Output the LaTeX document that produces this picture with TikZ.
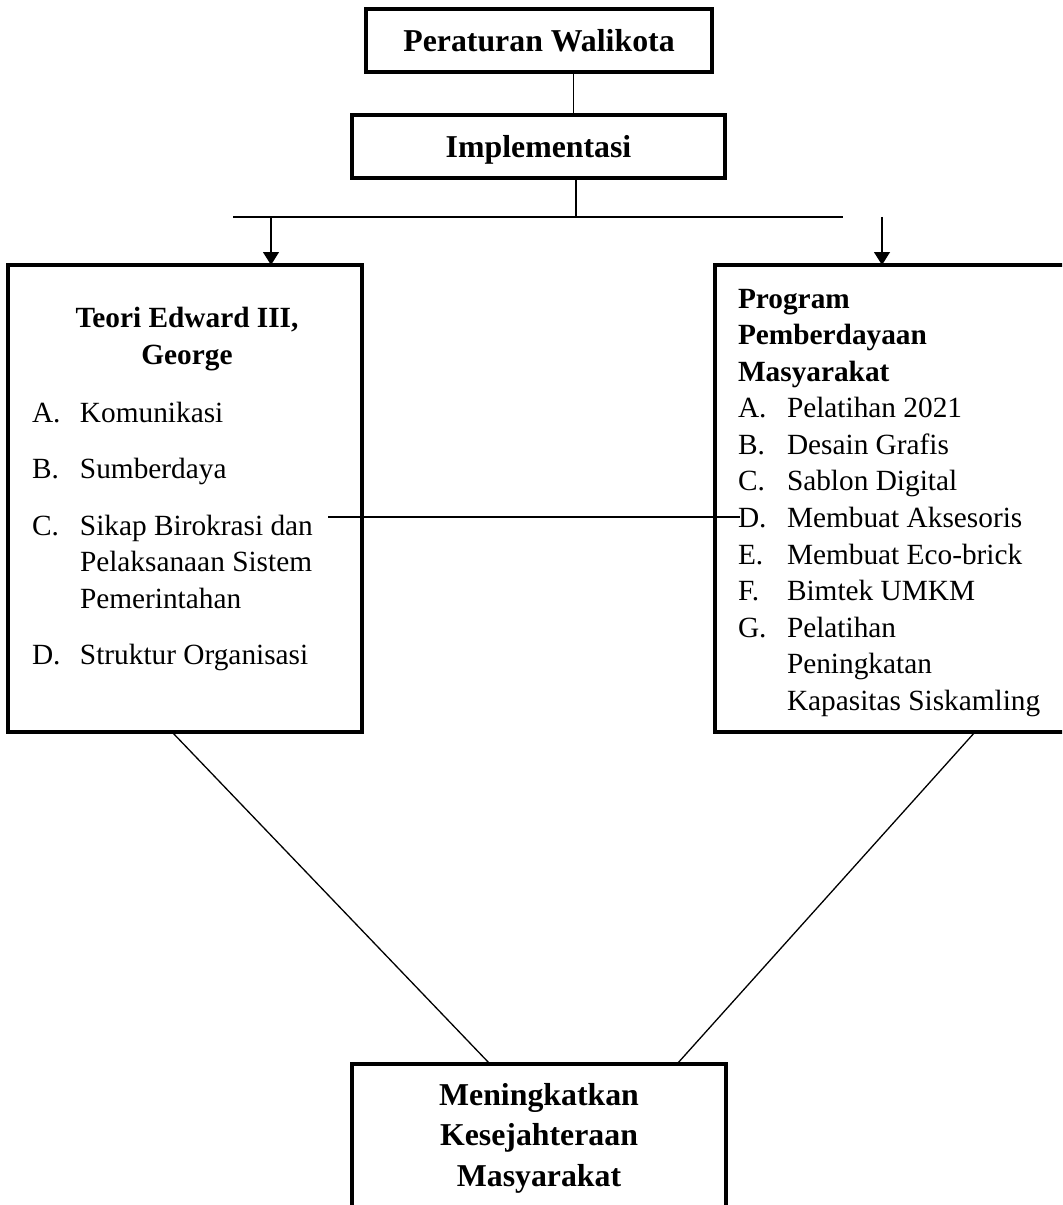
\documentclass[tikz,border=0pt]{standalone}
\usepackage{fontspec}
\setmainfont{Liberation Serif}
\usetikzlibrary{positioning,calc,arrows.meta}
\newdimen\px
\px=0.44pt

\begin{document}
\begin{tikzpicture}[
    x=0.44pt, y=-0.44pt,
    box/.style={rectangle, draw=black, line width=4\px, inner sep=0pt, outer sep=0pt},
    headtext/.style={font=\fontsize{14}{18}\selectfont\bfseries},
    listtext/.style={font=\fontsize{12.9}{16.1}\selectfont, inner sep=0pt, outer sep=0pt},
    link/.style={draw=black, line width=1.3\px},
    bar/.style={draw=black, line width=2\px},
    arrow/.style={link, -{Triangle[width=7pt, length=5.7pt]}}
]
\useasboundingbox (0,0) rectangle (1062,1205);
\clip (0,0) rectangle (1062,1205);

% Main boxes
\node[box, headtext, minimum width=346\px, minimum height=63\px] (perwal) at (539,40.5) {Peraturan Walikota};
\node[box, headtext, text depth=0pt, minimum width=373\px, minimum height=63\px] (impl) at (538.5,146.5) {Implementasi};
\node[box, minimum width=354\px, minimum height=467\px] (teori) at (185,498.5) {};
\node[box, minimum width=405\px, minimum height=467\px] (program) at (917.5,498.5) {};
\node[box, minimum width=374\px, minimum height=196\px] (hasil) at (539,1162) {};

% Box texts
\node[listtext, anchor=base] (teoriTitle) at (187,328) {\begin{tabular}[t]{@{}c@{}}
\textbf{Teori Edward III,}\\
\textbf{George}
\end{tabular}};
\node[listtext, anchor=base west] (teoriList) at (32,422) {\begin{tabular}[t]{@{}p{48\px}@{}l@{}}
A. & Komunikasi\\[20\px]
B. & Sumberdaya\\[20\px]
C. & Sikap Birokrasi dan\\
   & Pelaksanaan Sistem\\
   & Pemerintahan\\[20\px]
D. & Struktur Organisasi
\end{tabular}};
\node[listtext, anchor=base west] (progList) at (738,308) {\begin{tabular}[t]{@{}p{49\px}@{}l@{}}
\multicolumn{2}{@{}l@{}}{\textbf{Program}}\\
\multicolumn{2}{@{}l@{}}{\textbf{Pemberdayaan}}\\
\multicolumn{2}{@{}l@{}}{\textbf{Masyarakat}}\\
A. & Pelatihan 2021\\
B. & Desain Grafis\\
C. & Sablon Digital\\
D. & Membuat Aksesoris\\
E. & Membuat Eco-brick\\
F. & Bimtek UMKM\\
G. & Pelatihan\\
   & Peningkatan\\
   & Kapasitas Siskamling
\end{tabular}};
\node[headtext, inner sep=0pt, anchor=base] (hasilText) at (539,1105) {\begin{tabular}[t]{@{}c@{}}
Meningkatkan\\
Kesejahteraan\\
Masyarakat
\end{tabular}};

% Connectors
\coordinate (split) at (576,217);
\coordinate (barL) at (233,217);
\coordinate (barR) at (843,217);
\coordinate (arrL) at (271,217);
\coordinate (arrR) at (882,217);
\coordinate (crossL) at (328,517);
\coordinate (crossR) at (740,517);

\draw[link] ($(perwal.south west)!0.6!(perwal.south east)$) coordinate (up) -- (up |- impl.north);
\draw[link] (impl.south -| split) -- (split);
\draw[bar] (barL) -- (barR);
\draw[arrow] (arrL) -- (arrL |- teori.north);
\draw[arrow] (arrR) -- (arrR |- program.north);
\draw[link] (crossL) -- (crossR);

\draw[link] ($(teori.south west)+(164,0)$) -- ($(hasil.north west)+(138,0)$);
\draw[link] ($(program.south west)+(260,0)$) -- ($(hasil.north west)+(325,0)$);

\end{tikzpicture}
\end{document}
